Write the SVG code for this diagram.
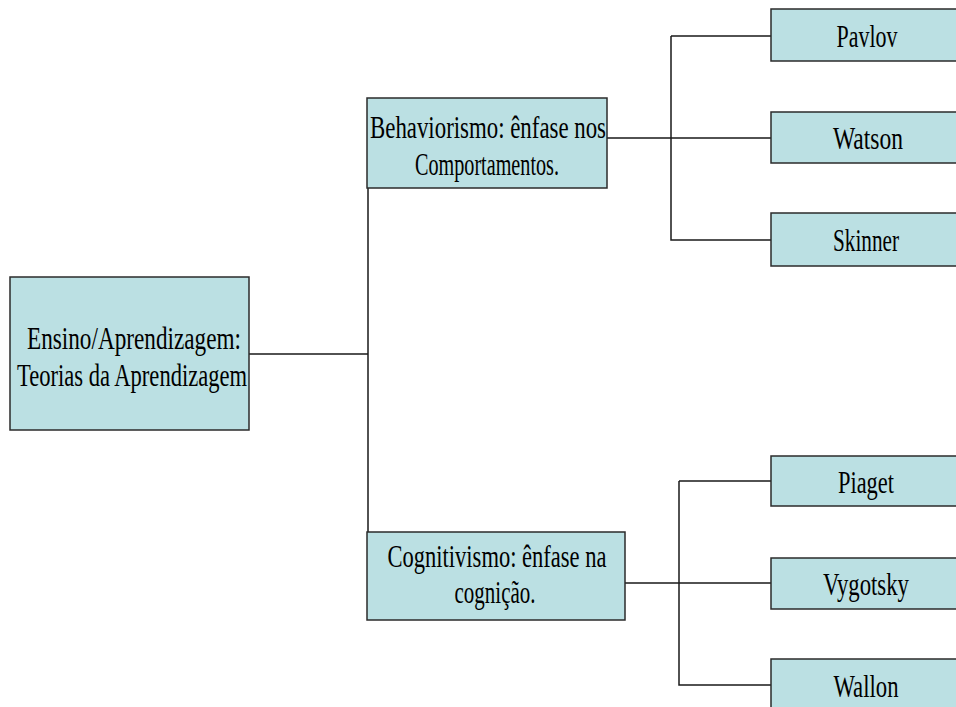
<svg xmlns="http://www.w3.org/2000/svg" width="956" height="707" viewBox="0 0 956 707">
<style>
.box{fill:#bbe0e3;stroke:#2b2b2b;stroke-width:1.5}
.t{font-family:"Liberation Serif","Times New Roman",serif;font-size:31px;fill:#000;text-anchor:middle}
.c{fill:none;stroke:#1a1a1a;stroke-width:1.5}
</style>
<rect width="956" height="707" fill="#fff"/>
<g id="connectors">
<path class="c" d="M249,354 H368 M368,188 V532"/>
<path class="c" d="M607,138 H771 M671,36 H771 M671,36 V240 H771"/>
<path class="c" d="M625,583 H771 M679,481 H771 M679,481 V685 H771"/>
</g>
<g id="root">
<rect class="box" x="10" y="277" width="239" height="153"/>
<text class="t" x="134" y="349" textLength="214" lengthAdjust="spacingAndGlyphs">Ensino/Aprendizagem:</text>
<text class="t" x="132" y="386" textLength="230" lengthAdjust="spacingAndGlyphs">Teorias da Aprendizagem</text>
</g>
<g id="behaviorismo">
<rect class="box" x="367" y="98" width="240" height="90"/>
<text class="t" x="488" y="138" textLength="236" lengthAdjust="spacingAndGlyphs">Behaviorismo: ênfase nos</text>
<text class="t" x="487" y="175" textLength="144" lengthAdjust="spacingAndGlyphs">Comportamentos.</text>
</g>
<g id="cognitivismo">
<rect class="box" x="367" y="532" width="258" height="88"/>
<text class="t" x="497" y="567" textLength="219" lengthAdjust="spacingAndGlyphs">Cognitivismo: ênfase na</text>
<text class="t" x="495" y="603" textLength="81" lengthAdjust="spacingAndGlyphs">cognição.</text>
</g>
<g id="pavlov">
<rect class="box" x="771" y="9" width="195" height="52"/>
<text class="t" x="867" y="47" textLength="61" lengthAdjust="spacingAndGlyphs">Pavlov</text>
</g>
<g id="watson">
<rect class="box" x="771" y="112" width="195" height="51"/>
<text class="t" x="868" y="149" textLength="70" lengthAdjust="spacingAndGlyphs">Watson</text>
</g>
<g id="skinner">
<rect class="box" x="771" y="213" width="195" height="53"/>
<text class="t" x="866" y="251" textLength="66" lengthAdjust="spacingAndGlyphs">Skinner</text>
</g>
<g id="piaget">
<rect class="box" x="771" y="456" width="195" height="50"/>
<text class="t" x="866" y="493" textLength="56" lengthAdjust="spacingAndGlyphs">Piaget</text>
</g>
<g id="vygotsky">
<rect class="box" x="771" y="558" width="195" height="51"/>
<text class="t" x="866" y="595" textLength="86" lengthAdjust="spacingAndGlyphs">Vygotsky</text>
</g>
<g id="wallon">
<rect class="box" x="771" y="659" width="195" height="52"/>
<text class="t" x="866" y="697" textLength="65" lengthAdjust="spacingAndGlyphs">Wallon</text>
</g>
</svg>
